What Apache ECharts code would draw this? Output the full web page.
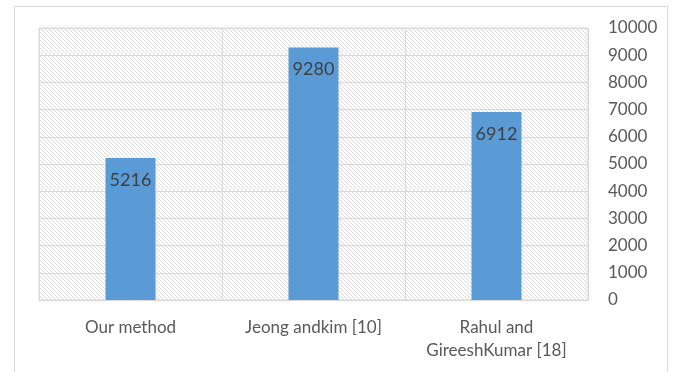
<!DOCTYPE html>
<html><head><meta charset="utf-8">
<script src="https://cdn.jsdelivr.net/npm/echarts@6/dist/echarts.min.js"></script>
<style>html,body{margin:0;padding:0;background:#fff}#c{width:679px;height:372px}</style>
</head><body><div id="c"></div>
<script>
const categories = ['Our method', 'Jeong andkim [10]', 'Rahul and\nGireeshKumar [18]'];
const values = [5216, 9280, 6912];
const yTicks = [0, 1000, 2000, 3000, 4000, 5000, 6000, 7000, 8000, 9000, 10000];

const pc = document.createElement('canvas');
pc.width = 4; pc.height = 4;
const g = pc.getContext('2d');
g.fillStyle = '#ffffff'; g.fillRect(0, 0, 4, 4);
g.fillStyle = '#dcdcdc';
for (let y = 0; y < 4; y++) { g.fillRect(y % 4, y, 1, 1); }

const chart = echarts.init(document.getElementById('c'));
chart.setOption({
  animation: false,
  textStyle: { fontFamily: 'Lato' },
  graphic: [{ type: 'rect', shape: { x: 14.5, y: 6.5, width: 653, height: 380 }, style: { fill: 'none', stroke: '#d9d9d9', lineWidth: 1 }, silent: true }],
  grid: { left: 39, right: 91, top: 28, bottom: 72, show: true, backgroundColor: { image: pc, repeat: 'repeat' }, borderColor: '#d9d9d9', borderWidth: 1 },
  xAxis: {
    type: 'category', data: categories,
    axisLine: { lineStyle: { color: '#d9d9d9' } }, axisTick: { show: false },
    splitLine: { show: true, lineStyle: { color: '#d9d9d9', width: 1 } },
    axisLabel: { color: '#595959', fontSize: 17, margin: 16, lineHeight: 23, interval: 0 }
  },
  yAxis: {
    type: 'value', position: 'right', min: yTicks[0], max: yTicks[yTicks.length - 1], interval: 1000,
    axisLine: { show: false }, axisTick: { show: false },
    splitLine: { lineStyle: { color: '#d9d9d9', width: 1 } },
    axisLabel: { color: '#595959', fontSize: 17, margin: 20, align: 'left', formatter: v => String(v) }
  },
  series: [{
    type: 'bar', barWidth: 50,
    data: values,
    itemStyle: { color: '#5b9bd5' },
    label: { show: true, position: 'insideTop', color: '#404040', fontSize: 18, offset: [0, 8] }
  }]
});
</script></body></html>
